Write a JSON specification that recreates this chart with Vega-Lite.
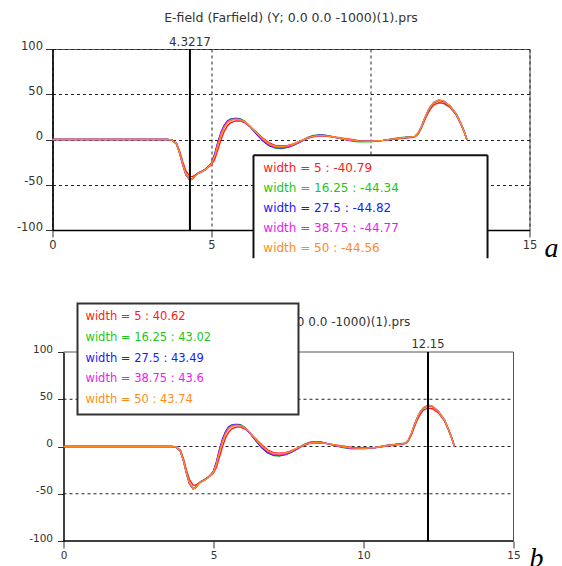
{
  "$schema": "https://vega.github.io/schema/vega-lite/v6.json",
  "background": "white",
  "padding": {"left": 6.5, "top": 11, "right": 0, "bottom": 0},
  "config": {
    "font": "DejaVu Sans",
    "view": {"stroke": "#555", "strokeWidth": 1},
    "axis": {
      "labelFont": "DejaVu Sans", "labelFontSize": 11.5, "labelColor": "#333",
      "tickColor": "#333", "tickSize": 7, "domainColor": "#000", "domainWidth": 1.5,
      "gridColor": "#222", "gridDash": [3, 3], "gridWidth": 1, "labelFlush": false, "title": null,
      "labelExpr": "'' + datum.value"
    }
  },
  "datasets": {
    "curves": [
      {"x": 0, "r": 0, "g": 0, "b": 0, "m": 0, "o": 0},
      {"x": 3.6, "r": 0, "g": 0, "b": 0, "m": 0, "o": 0},
      {"x": 3.75, "r": -0.5, "g": -0.5, "b": -0.5, "m": -0.5, "o": -0.5},
      {"x": 3.9, "r": -4, "g": -5, "b": -5, "m": -5, "o": -5},
      {"x": 4.0, "r": -13, "g": -15, "b": -15.5, "m": -15, "o": -15},
      {"x": 4.1, "r": -25, "g": -28, "b": -28.5, "m": -28, "o": -27.5},
      {"x": 4.2, "r": -35, "g": -39, "b": -39.5, "m": -39, "o": -38.5},
      {"x": 4.3217, "r": -40.79, "g": -44.34, "b": -44.82, "m": -44.77, "o": -44.56},
      {"x": 4.4, "r": -41, "g": -43.5, "b": -43.5, "m": -43.5, "o": -43.5},
      {"x": 4.5, "r": -39, "g": -39.5, "b": -39.5, "m": -39.5, "o": -40},
      {"x": 4.6, "r": -37, "g": -37, "b": -36.5, "m": -37, "o": -37},
      {"x": 4.7, "r": -35.5, "g": -35.5, "b": -35, "m": -35.5, "o": -35.5},
      {"x": 4.8, "r": -33, "g": -33.5, "b": -33, "m": -33.5, "o": -33.5},
      {"x": 4.9, "r": -30.5, "g": -30.5, "b": -30, "m": -30.5, "o": -30.5},
      {"x": 5.0, "r": -28, "g": -26.5, "b": -26, "m": -26.5, "o": -27},
      {"x": 5.1, "r": -22, "g": -17, "b": -16, "m": -17.5, "o": -18.5},
      {"x": 5.2, "r": -11, "g": -4, "b": -3, "m": -4.5, "o": -6},
      {"x": 5.3, "r": 0, "g": 7, "b": 8, "m": 6.5, "o": 5},
      {"x": 5.4, "r": 9, "g": 15, "b": 15.5, "m": 14.5, "o": 13},
      {"x": 5.5, "r": 15, "g": 20, "b": 20.5, "m": 19.5, "o": 18.5},
      {"x": 5.6, "r": 18.5, "g": 22.5, "b": 22.5, "m": 22, "o": 21},
      {"x": 5.75, "r": 20.5, "g": 23.5, "b": 23, "m": 22.5, "o": 22.5},
      {"x": 5.9, "r": 20.5, "g": 23, "b": 22.5, "m": 22, "o": 22},
      {"x": 6.05, "r": 18.5, "g": 20, "b": 19.5, "m": 19.5, "o": 19.5},
      {"x": 6.2, "r": 14.5, "g": 15, "b": 14.5, "m": 15, "o": 15},
      {"x": 6.4, "r": 8.5, "g": 7, "b": 6.5, "m": 7.5, "o": 8},
      {"x": 6.6, "r": 2, "g": -0.5, "b": -1, "m": 0, "o": 1},
      {"x": 6.8, "r": -3.5, "g": -6.5, "b": -6.5, "m": -5.5, "o": -4.5},
      {"x": 7.0, "r": -6.5, "g": -9.5, "b": -9, "m": -8.5, "o": -7.5},
      {"x": 7.2, "r": -7, "g": -10, "b": -9.5, "m": -9, "o": -8},
      {"x": 7.4, "r": -6.5, "g": -8.5, "b": -8.5, "m": -8, "o": -7},
      {"x": 7.6, "r": -4.5, "g": -6, "b": -6, "m": -5.5, "o": -5},
      {"x": 7.8, "r": -1.5, "g": -2, "b": -2.5, "m": -2, "o": -1.5},
      {"x": 8.0, "r": 1, "g": 2, "b": 1.5, "m": 1.5, "o": 1.5},
      {"x": 8.2, "r": 3, "g": 4.5, "b": 4, "m": 4, "o": 3.5},
      {"x": 8.4, "r": 4, "g": 5, "b": 5, "m": 4.5, "o": 4.5},
      {"x": 8.6, "r": 3.5, "g": 4.5, "b": 4.5, "m": 4, "o": 4},
      {"x": 8.8, "r": 3, "g": 3, "b": 3, "m": 3, "o": 3},
      {"x": 9.0, "r": 2, "g": 1.5, "b": 1.5, "m": 1.5, "o": 2},
      {"x": 9.3, "r": 0.5, "g": -1, "b": -0.5, "m": -0.5, "o": 0},
      {"x": 9.6, "r": -1, "g": -2.5, "b": -2, "m": -2, "o": -1.5},
      {"x": 10.0, "r": -1.5, "g": -2.5, "b": -2, "m": -2, "o": -2},
      {"x": 10.4, "r": -1, "g": -1, "b": -1, "m": -1, "o": -1},
      {"x": 10.8, "r": 0.5, "g": 1.5, "b": 1, "m": 1, "o": 1},
      {"x": 11.2, "r": 2, "g": 3, "b": 2.5, "m": 2.5, "o": 2.5},
      {"x": 11.4, "r": 3, "g": 3.5, "b": 3.5, "m": 3.5, "o": 3.5},
      {"x": 11.5, "r": 6, "g": 6.5, "b": 7, "m": 7, "o": 7},
      {"x": 11.6, "r": 12.5, "g": 13.5, "b": 14, "m": 14, "o": 14},
      {"x": 11.7, "r": 21, "g": 22.5, "b": 23, "m": 23, "o": 23},
      {"x": 11.8, "r": 28.5, "g": 30.5, "b": 31, "m": 31, "o": 31},
      {"x": 11.9, "r": 34.5, "g": 36.5, "b": 37, "m": 37, "o": 37},
      {"x": 12.0, "r": 38.5, "g": 40.5, "b": 41, "m": 41, "o": 41},
      {"x": 12.15, "r": 40.62, "g": 43.02, "b": 43.49, "m": 43.6, "o": 43.74},
      {"x": 12.3, "r": 40, "g": 42, "b": 42.5, "m": 42.5, "o": 42.5},
      {"x": 12.5, "r": 35.5, "g": 36.5, "b": 37, "m": 37, "o": 37},
      {"x": 12.7, "r": 27, "g": 27.5, "b": 28, "m": 28, "o": 28},
      {"x": 12.85, "r": 16.5, "g": 16.5, "b": 17, "m": 17, "o": 17},
      {"x": 12.95, "r": 8, "g": 8, "b": 8.5, "m": 8.5, "o": 8},
      {"x": 13.03, "r": 0, "g": 0, "b": 0, "m": 0, "o": 0}
    ],
    "legA": [
      {"s": "r", "label": "width = 5 : -40.79"},
      {"s": "g", "label": "width = 16.25 : -44.34"},
      {"s": "b", "label": "width = 27.5 : -44.82"},
      {"s": "m", "label": "width = 38.75 : -44.77"},
      {"s": "o", "label": "width = 50 : -44.56"}
    ],
    "legB": [
      {"s": "r", "label": "width = 5 : 40.62"},
      {"s": "g", "label": "width = 16.25 : 43.02"},
      {"s": "b", "label": "width = 27.5 : 43.49"},
      {"s": "m", "label": "width = 38.75 : 43.6"},
      {"s": "o", "label": "width = 50 : 43.74"}
    ],
    "gridB": [{"g": 50}, {"g": 0}, {"g": -50}]
  },
  "columns": 1,
  "spacing": 38,
  "concat": [
    {
      "width": 477,
      "height": 181,
      "title": {"text": "E-field (Farfield) (Y; 0.0 0.0 -1000)(1).prs", "fontSize": 12.5, "fontWeight": "normal", "color": "#333", "font": "DejaVu Sans", "frame": "group", "anchor": "middle", "offset": 12},
      "layer": [
        {
          "layer": [
            {
              "data": {"name": "curves"},
              "transform": [{"fold": ["r", "g", "b", "m", "o"], "as": ["s", "y"]}],
              "mark": {"type": "line", "strokeWidth": 1.4},
              "encoding": {
                "x": {"field": "x", "type": "quantitative", "scale": {"domain": [0, 15], "nice": false}, "axis": {"values": [0, 5, 10, 15], "labelPadding": 2}},
                "y": {"field": "y", "type": "quantitative", "scale": {"domain": [-100, 100], "nice": false}, "axis": {"values": [-100, -50, 0, 50, 100], "labelBaseline": "alphabetic", "labelPadding": 3}},
                "color": {"field": "s", "type": "nominal", "scale": {"domain": ["r", "g", "b", "m", "o"], "range": ["#ff1a1a", "#1ac81a", "#1a1aff", "#f01af0", "#ff8c1a"]}, "legend": null}
              }
            },
            {"data": {"values": [{}]}, "mark": {"type": "rule", "color": "#000", "strokeWidth": 2}, "encoding": {"x": {"datum": 4.3217}}},
            {"data": {"values": [{}]}, "mark": {"type": "text", "text": "4.3217", "fontSize": 12, "color": "#333", "baseline": "alphabetic", "dy": -3}, "encoding": {"x": {"datum": 4.3217}, "y": {"datum": 100}}},
            {"data": {"values": [{}]}, "mark": {"type": "rect", "fill": "white"}, "encoding": {"x": {"datum": 6.32}, "x2": {"datum": 13.68}, "y": {"datum": -17.3}, "y2": {"datum": -131.2}}},
            {"data": {"values": [{}]}, "mark": {"type": "rule", "color": "#111", "strokeWidth": 2}, "encoding": {"x": {"datum": 6.32}, "x2": {"datum": 13.68}, "y": {"datum": -17.3}}},
            {"data": {"values": [{}]}, "mark": {"type": "rule", "color": "#111", "strokeWidth": 2}, "encoding": {"x": {"datum": 6.32}, "y": {"datum": -17.3}, "y2": {"datum": -131.2}}},
            {"data": {"values": [{}]}, "mark": {"type": "rule", "color": "#111", "strokeWidth": 2}, "encoding": {"x": {"datum": 13.68}, "y": {"datum": -17.3}, "y2": {"datum": -131.2}}},
            {"data": {"values": [{}]}, "mark": {"type": "text", "text": "a", "font": "Liberation Serif", "fontStyle": "italic", "fontSize": 28, "color": "#000", "baseline": "alphabetic", "align": "center"}, "encoding": {"x": {"datum": 15.69}, "y": {"datum": -130}}},
            {"data": {"values": [{}]}, "mark": {"type": "rule", "strokeOpacity": 0, "strokeWidth": 1}, "encoding": {"x": {"datum": -1.415}}}
          ]
        },
        {
          "data": {"name": "legA"},
          "mark": {"type": "text", "align": "left", "baseline": "middle", "fontSize": 12, "font": "DejaVu Sans"},
          "encoding": {
            "x": {"datum": 6.63},
            "y": {"field": "s", "type": "nominal", "scale": {"type": "point", "domain": ["r", "g", "b", "m", "o"], "range": [118.7, 199.3], "padding": 0}, "axis": null},
            "text": {"field": "label"},
            "color": {"field": "s", "type": "nominal", "legend": null}
          }
        }
      ],
      "resolve": {"scale": {"y": "independent"}}
    },
    {
      "width": 461,
      "height": 189,
      "view": {"stroke": null},
      "layer": [
        {
          "layer": [
            {"data": {"values": [{}]}, "mark": {"type": "text", "text": "E-field (Farfield) (Y; 0.0 0.0 -1000)(1).prs", "fontSize": 12, "color": "#333", "baseline": "middle", "align": "center"}, "encoding": {"x": {"datum": 7.5}, "y": {"datum": 132}}},
            {"data": {"name": "gridB"}, "mark": {"type": "rule", "color": "#222", "strokeDash": [3, 3], "strokeWidth": 1}, "encoding": {"x": {"datum": 0}, "x2": {"datum": 15}, "y": {"field": "g", "type": "quantitative"}}},
            {"data": {"values": [{}]}, "mark": {"type": "rule", "color": "#555", "strokeWidth": 1}, "encoding": {"x": {"datum": 0}, "x2": {"datum": 15}, "y": {"datum": 100}}},
            {"data": {"values": [{}]}, "mark": {"type": "rule", "color": "#555", "strokeWidth": 1}, "encoding": {"x": {"datum": 15}, "y": {"datum": -100}, "y2": {"datum": 100}}},
            {"data": {"values": [{}]}, "mark": {"type": "rule", "color": "#000", "strokeWidth": 1.5}, "encoding": {"x": {"datum": 0}, "x2": {"datum": 15}, "y": {"datum": -100}}},
            {
              "data": {"name": "curves"},
              "transform": [{"fold": ["r", "g", "b", "m", "o"], "as": ["s", "y"]}],
              "mark": {"type": "line", "strokeWidth": 1.4},
              "encoding": {
                "x": {"field": "x", "type": "quantitative", "scale": {"domain": [-0.36667, 15], "nice": false}, "axis": {"values": [0, 5, 10, 15], "labelPadding": 2, "labelFontSize": 10.5, "domain": false}},
                "y": {"field": "y", "type": "quantitative", "scale": {"domain": [-100, 100], "nice": false}, "axis": {"values": [-100, -50, 0, 50, 100], "labelBaseline": "alphabetic", "labelPadding": 5, "tickSize": 6, "labelFontSize": 10.5, "offset": -11, "grid": false}},
                "color": {"field": "s", "type": "nominal", "scale": {"domain": ["r", "g", "b", "m", "o"], "range": ["#ff1a1a", "#1ac81a", "#1a1aff", "#f01af0", "#ff8c1a"]}, "legend": null}
              }
            },
            {"data": {"values": [{}]}, "mark": {"type": "rule", "color": "#000", "strokeWidth": 2}, "encoding": {"x": {"datum": 12.15}}},
            {"data": {"values": [{}]}, "mark": {"type": "text", "text": "12.15", "fontSize": 11.5, "color": "#333", "baseline": "alphabetic", "dy": -4}, "encoding": {"x": {"datum": 12.15}, "y": {"datum": 100}}},
            {"data": {"values": [{}]}, "mark": {"type": "rect", "fill": "white", "stroke": "#333", "strokeWidth": 2}, "encoding": {"x": {"datum": 0.467}, "x2": {"datum": 7.833}, "y": {"datum": 151.3}, "y2": {"datum": 33.9}}},
            {"data": {"values": [{}]}, "mark": {"type": "text", "text": "b", "font": "Liberation Serif", "fontStyle": "italic", "fontSize": 28, "color": "#000", "baseline": "alphabetic", "align": "center"}, "encoding": {"x": {"datum": 15.77}, "y": {"datum": -128}}}
          ]
        },
        {
          "data": {"name": "legB"},
          "mark": {"type": "text", "align": "left", "baseline": "middle", "fontSize": 11.5, "font": "DejaVu Sans"},
          "encoding": {
            "x": {"datum": 0.733},
            "y": {"field": "s", "type": "nominal", "scale": {"type": "point", "domain": ["r", "g", "b", "m", "o"], "range": [-35, 48.3], "padding": 0}, "axis": null},
            "text": {"field": "label"},
            "color": {"field": "s", "type": "nominal", "legend": null}
          }
        }
      ],
      "resolve": {"scale": {"y": "independent"}}
    }
  ]
}
